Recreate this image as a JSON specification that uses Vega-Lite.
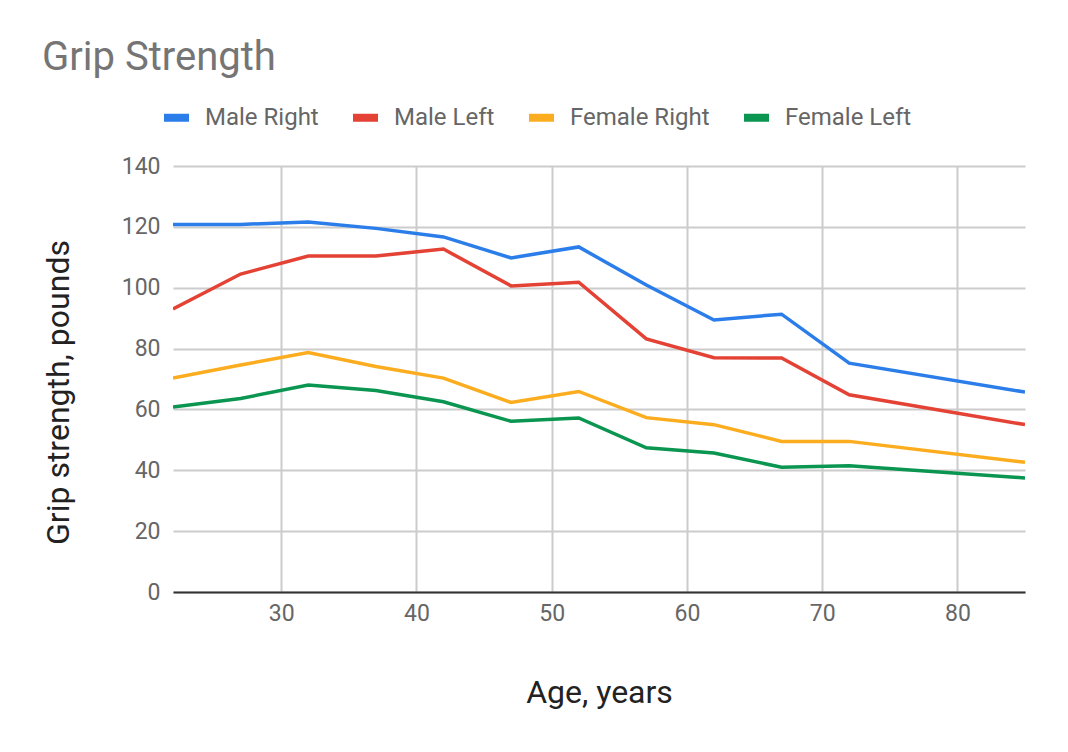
{
  "$schema": "https://vega.github.io/schema/vega-lite/v6.json",
  "width": 852,
  "height": 426,
  "autosize": {"type": "none"},
  "padding": {"left": 173, "top": 166, "right": 43, "bottom": 160},
  "background": "white",
  "title": {
    "text": "Grip Strength",
    "anchor": "start",
    "frame": "group",
    "dx": -131,
    "font": "Roboto",
    "fontSize": 40,
    "fontWeight": "normal",
    "color": "#757575",
    "offset": 23
  },
  "config": {
    "font": "Roboto",
    "view": {"stroke": null}
  },
  "data": {
    "values": [
      {"age": 22, "series": "Male Right", "value": 120.8},
      {"age": 27, "series": "Male Right", "value": 120.8},
      {"age": 32, "series": "Male Right", "value": 121.6},
      {"age": 37, "series": "Male Right", "value": 119.5},
      {"age": 42, "series": "Male Right", "value": 116.7},
      {"age": 47, "series": "Male Right", "value": 109.8},
      {"age": 52, "series": "Male Right", "value": 113.4},
      {"age": 57, "series": "Male Right", "value": 100.9},
      {"age": 62, "series": "Male Right", "value": 89.4},
      {"age": 67, "series": "Male Right", "value": 91.3},
      {"age": 72, "series": "Male Right", "value": 75.2},
      {"age": 85, "series": "Male Right", "value": 65.7},
      {"age": 22, "series": "Male Left", "value": 93.0},
      {"age": 27, "series": "Male Left", "value": 104.5},
      {"age": 32, "series": "Male Left", "value": 110.4},
      {"age": 37, "series": "Male Left", "value": 110.4},
      {"age": 42, "series": "Male Left", "value": 112.7},
      {"age": 47, "series": "Male Left", "value": 100.6},
      {"age": 52, "series": "Male Left", "value": 101.8},
      {"age": 57, "series": "Male Left", "value": 83.2},
      {"age": 62, "series": "Male Left", "value": 77.0},
      {"age": 67, "series": "Male Left", "value": 76.9},
      {"age": 72, "series": "Male Left", "value": 64.8},
      {"age": 85, "series": "Male Left", "value": 55.0},
      {"age": 22, "series": "Female Right", "value": 70.3},
      {"age": 27, "series": "Female Right", "value": 74.6},
      {"age": 32, "series": "Female Right", "value": 78.7},
      {"age": 37, "series": "Female Right", "value": 74.1},
      {"age": 42, "series": "Female Right", "value": 70.3},
      {"age": 47, "series": "Female Right", "value": 62.3},
      {"age": 52, "series": "Female Right", "value": 65.9},
      {"age": 57, "series": "Female Right", "value": 57.3},
      {"age": 62, "series": "Female Right", "value": 55.0},
      {"age": 67, "series": "Female Right", "value": 49.5},
      {"age": 72, "series": "Female Right", "value": 49.5},
      {"age": 85, "series": "Female Right", "value": 42.6},
      {"age": 22, "series": "Female Left", "value": 60.8},
      {"age": 27, "series": "Female Left", "value": 63.6},
      {"age": 32, "series": "Female Left", "value": 68.0},
      {"age": 37, "series": "Female Left", "value": 66.2},
      {"age": 42, "series": "Female Left", "value": 62.5},
      {"age": 47, "series": "Female Left", "value": 56.1},
      {"age": 52, "series": "Female Left", "value": 57.2},
      {"age": 57, "series": "Female Left", "value": 47.4},
      {"age": 62, "series": "Female Left", "value": 45.7},
      {"age": 67, "series": "Female Left", "value": 41.0},
      {"age": 72, "series": "Female Left", "value": 41.5},
      {"age": 85, "series": "Female Left", "value": 37.5}
    ]
  },
  "mark": {"type": "line", "strokeWidth": 3.5, "clip": true},
  "encoding": {
    "x": {
      "field": "age",
      "type": "quantitative",
      "scale": {"domain": [22, 85], "nice": false, "zero": false},
      "axis": {
        "values": [30, 40, 50, 60, 70, 80],
        "title": "Age, years",
        "titleFont": "Roboto",
        "titleFontSize": 32,
        "titleFontWeight": "normal",
        "titleColor": "#222222",
        "titleY": 100,
        "titleBaseline": "middle",
        "labelFont": "Roboto",
        "labelFontSize": 23,
        "labelColor": "#666666",
        "labelPadding": 10,
        "ticks": false,
        "domain": true,
        "domainColor": "#333333",
        "domainWidth": 2,
        "grid": true,
        "gridColor": "#cccccc",
        "gridWidth": 2
      }
    },
    "y": {
      "field": "value",
      "type": "quantitative",
      "scale": {"domain": [0, 140], "nice": false},
      "axis": {
        "values": [0, 20, 40, 60, 80, 100, 120, 140],
        "title": "Grip strength, pounds",
        "titleFont": "Roboto",
        "titleFontSize": 32,
        "titleFontWeight": "normal",
        "titleColor": "#222222",
        "titleX": -115,
        "titleY": 226,
        "titleBaseline": "middle",
        "labelFont": "Roboto",
        "labelFontSize": 23,
        "labelColor": "#666666",
        "labelPadding": 13,
        "ticks": false,
        "domain": false,
        "grid": true,
        "gridColor": "#cccccc",
        "gridWidth": 2
      }
    },
    "color": {
      "field": "series",
      "type": "nominal",
      "scale": {
        "domain": ["Male Right", "Male Left", "Female Right", "Female Left"],
        "range": ["#2b7de9", "#e34234", "#fbad1f", "#0a9550"]
      },
      "legend": {
        "title": null,
        "orient": "none",
        "direction": "horizontal",
        "legendX": -13,
        "legendY": -65,
        "symbolType": "stroke",
        "symbolSize": 625,
        "symbolStrokeWidth": 8,
        "labelFont": "Roboto",
        "labelFontSize": 24,
        "labelColor": "#666666",
        "labelOffset": 12,
        "columnPadding": 18
      }
    }
  }
}
